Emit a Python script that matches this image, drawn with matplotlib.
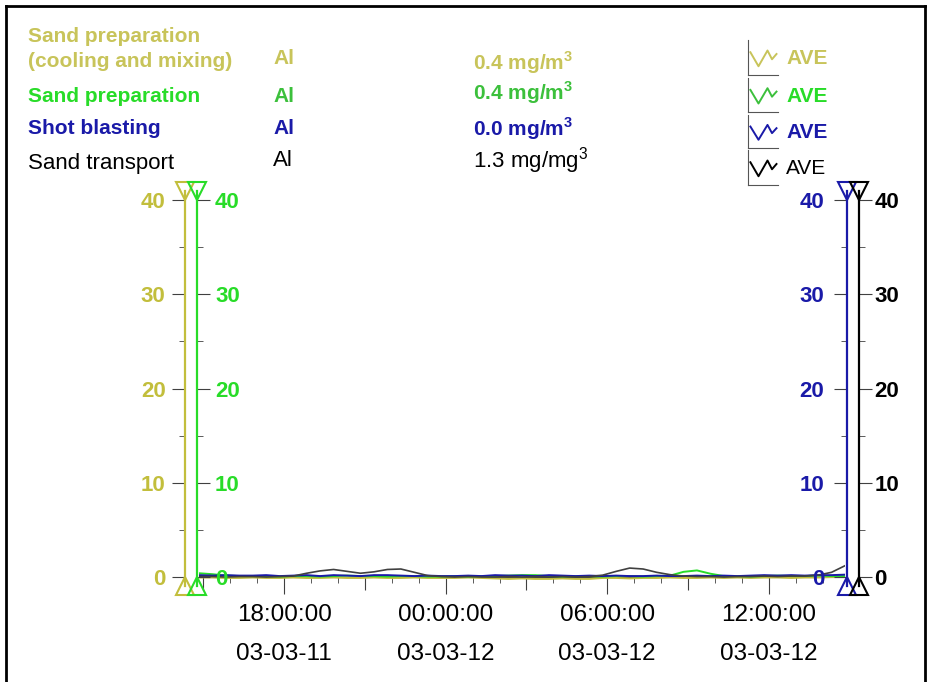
import numpy as np
import pandas as pd
import matplotlib
matplotlib.use("Agg")
import matplotlib.pyplot as plt
import matplotlib.dates as mdates
from matplotlib.lines import Line2D
from matplotlib.ticker import MultipleLocator

plt.rcParams['font.family'] = ['Liberation Sans', 'DejaVu Sans']
plt.rcParams['mathtext.fontset'] = 'custom'
plt.rcParams['mathtext.rm'] = 'Liberation Sans'
plt.rcParams['mathtext.bf'] = 'Liberation Sans:bold'

# ---- data ----
times = pd.date_range("2003-03-11 14:50", "2003-03-12 14:50", freq="30min")

sand_cool = [-0.05, -0.05, -0.1, -0.1, -0.05, -0.1, -0.1, -0.05, -0.1, -0.1,
             -0.05, -0.1, -0.1, -0.05, -0.1, -0.1, -0.05, -0.1, -0.1, -0.1,
             -0.05, -0.1, -0.15, -0.2, -0.15, -0.2, -0.2, -0.15, -0.2, -0.2,
             -0.1, -0.1, -0.15, -0.1, -0.1, -0.05, -0.1, -0.1, -0.05, -0.1,
             -0.05, -0.1, -0.05, -0.05, -0.1, -0.05, -0.05, 0.0, 0.0]
sand_prep = [0.4, 0.3, 0.15, 0.1, 0.1, 0.1, 0.05, 0.1, 0.1, 0.05,
             0.1, 0.15, 0.1, 0.1, 0.05, 0.1, 0.1, 0.05, 0.05, 0.1,
             0.05, 0.1, 0.1, 0.15, 0.2, 0.2, 0.1, 0.05, 0.1, 0.1,
             0.05, 0.1, 0.1, 0.05, 0.1, 0.15, 0.55, 0.7, 0.35, 0.1,
             0.1, 0.05, 0.1, 0.15, 0.1, 0.1, 0.15, 0.1, 0.1]
shot_blast = [0.2, 0.15, 0.2, 0.15, 0.15, 0.2, 0.1, 0.15, 0.2, 0.1,
              0.2, 0.15, 0.1, 0.2, 0.2, 0.15, 0.1, 0.15, 0.1, 0.1,
              0.15, 0.1, 0.2, 0.15, 0.15, 0.1, 0.2, 0.15, 0.1, 0.15,
              0.1, 0.15, 0.1, 0.1, 0.15, 0.1, 0.1, 0.15, 0.1, 0.15,
              0.1, 0.15, 0.2, 0.15, 0.2, 0.15, 0.2, 0.2, 0.25]
sand_trans = [0.05, 0.05, 0.0, 0.05, 0.05, 0.0, 0.05, 0.1, 0.4, 0.65,
              0.8, 0.6, 0.4, 0.55, 0.8, 0.85, 0.5, 0.15, 0.05, 0.0,
              0.05, 0.0, 0.0, 0.05, 0.0, 0.05, 0.0, 0.05, 0.0, 0.05,
              0.2, 0.6, 0.95, 0.85, 0.5, 0.25, 0.1, 0.05, 0.05, 0.0,
              0.05, 0.05, 0.1, 0.05, 0.1, 0.1, 0.2, 0.5, 1.2]

names = ["Sand preparation\n(cooling and mixing)", "Sand preparation",
         "Shot blasting", "Sand transport"]
element = ["Al", "Al", "Al", "Al"]
averages = [r"0.4 mg/m$^{\mathbf{3}}$", r"0.4 mg/m$^{\mathbf{3}}$",
            r"0.0 mg/m$^{\mathbf{3}}$", r"1.3 mg/mg$^{3}$"]
yticks = [0, 10, 20, 30, 40]

C_Y = '#c2be3c'
C_G = '#28dc28'
C_B = '#1a1aa8'
C_K = '#000000'
TICK = '#404040'

fig = plt.figure(figsize=(9.3, 6.82), dpi=100)

# frame
fig.add_artist(Line2D([6/930, 6/930], [0, 1 - 6/682], color='k', lw=2))
fig.add_artist(Line2D([6/930, 925/930], [1 - 6/682, 1 - 6/682], color='k', lw=2))
fig.add_artist(Line2D([925/930, 925/930], [0, 1 - 6/682], color='k', lw=2))

ylim = (-0.9, 41.0)
pos = [199/930, 1 - 585.5/682, 646/930, (585.5 - 190.6)/682]

ax = fig.add_axes(pos)
ax.set_ylim(*ylim)
ax.set_xlim(times[0], times[-1])
for s in ['left', 'right', 'top']:
    ax.spines[s].set_visible(False)
ax.spines['bottom'].set_position(('data', 0))
ax.spines['bottom'].set_color(TICK)
ax.set_yticks([])
ax.xaxis.set_major_locator(mdates.HourLocator(byhour=[0, 6, 12, 18]))
ax.xaxis.set_minor_locator(mdates.HourLocator())
ax.xaxis.set_major_formatter(mdates.DateFormatter('%H:%M:%S\n%y-%m-%d'))
ax.tick_params(axis='x', which='major', length=12, color=TICK, pad=7.5)
ax.tick_params(axis='x', which='minor', length=4.5, color=TICK)
for lab in ax.get_xticklabels():
    lab.set_fontsize(17.5)
    lab.set_linespacing(2.0)

# 3-hour medium ticks
sec = ax.secondary_xaxis(0.9 / 41.9)
sec.xaxis.set_major_locator(mdates.HourLocator(byhour=[3, 9, 15, 21]))
sec.tick_params(axis='x', length=9, color=TICK, labelbottom=False)
sec.spines['bottom'].set_visible(False)

ax.plot(times, sand_cool, color=C_Y, lw=1.4, zorder=3)
ax.plot(times, sand_prep, color=C_G, lw=1.4, zorder=4)
ax.plot(times, shot_blast, color=C_B, lw=1.4, zorder=5)
ax.plot(times, sand_trans, color='#404040', lw=1.2, zorder=6)

# four y axes: color, tick side, offset px, label pad
specs = [
    (C_Y, 'left', -14, 4.5),
    (C_G, 'right', -2, 3.5),
    (C_B, 'left', 2, 7),
    (C_K, 'right', 14, 1.5),
]
for col, side, off, padv in specs:
    a = fig.add_axes(pos)
    a.patch.set_visible(False)
    a.set_ylim(*ylim)
    a.set_xticks([])
    for s in ['left', 'right', 'top', 'bottom']:
        a.spines[s].set_visible(False)
    base = 0.0 if off < 0 else 1.0
    xpos = base + off / 646
    a.spines[side].set_visible(True)
    a.spines[side].set_position(('axes', xpos))
    a.spines[side].set_color(col)
    a.spines[side].set_linewidth(1.6)
    if side == 'left':
        a.yaxis.tick_left()
    else:
        a.yaxis.tick_right()
    a.set_yticks(yticks)
    a.yaxis.set_minor_locator(MultipleLocator(5))
    a.tick_params(axis='y', which='major', length=9.5, color=TICK,
                  labelcolor=col, labelsize=16, pad=padv)
    a.tick_params(axis='y', which='minor', length=4.5, color=TICK)
    for lab in a.get_yticklabels():
        lab.set_fontweight('bold')
    # end triangles
    a.plot([xpos], [1.0], marker='v', ms=12.5, mfc='none', mec=col, mew=1.5,
           transform=a.transAxes, clip_on=False)
    a.plot([xpos], [0.0], marker='^', ms=12.5, mfc='none', mec=col, mew=1.5,
           transform=a.transAxes, clip_on=False)

# header rows
rows_y = [49, 97, 129, 163]
colors_txt = ['#c8c45a', C_G, C_B, C_K]
colors_val = ['#c8c45a', '#3cc03c', C_B, C_K]
val_y = [63, 93, 129, 161]
al_y = [58, 97, 129, 160]
for i in range(4):
    w = 'normal' if i == 3 else 'bold'
    fs = 15 if i < 3 else 16
    fig.text(28/930, 1 - rows_y[i]/682, names[i], color=colors_txt[i],
             fontsize=fs, fontweight=w, va='center', linespacing=1.4)
    fig.text(273/930, 1 - al_y[i]/682, element[i], color=colors_val[i],
             fontsize=fs, fontweight=w, va='center')
    fig.text(473/930, 1 - val_y[i]/682, averages[i], color=colors_val[i],
             fontsize=fs, fontweight=w, va='center')

# legend column
leg_y = [(40, 75), (78, 112), (115, 148), (150, 185)]
for i, (top, bot) in enumerate(leg_y):
    la = fig.add_axes([748/930, 1 - bot/682, 30/930, (bot - top)/682])
    la.set_xlim(0, 1)
    la.set_ylim(0, 1)
    la.set_xticks([])
    la.set_yticks([])
    la.patch.set_visible(False)
    la.spines['top'].set_visible(False)
    la.spines['right'].set_visible(False)
    la.spines['left'].set_color('#555555')
    la.spines['bottom'].set_color('#555555')
    la.plot([0.08, 0.35, 0.65, 0.8, 0.95], [0.65, 0.25, 0.7, 0.45, 0.6],
            color=colors_val[i], lw=1.4)
    fig.text(786/930, 1 - ((top + bot) / 2 + 1) / 682, "AVE",
             color=colors_txt[i] if i != 1 else C_G, fontsize=15,
             fontweight='normal' if i == 3 else 'bold', va='center')

fig.savefig("out.png", dpi=100)
